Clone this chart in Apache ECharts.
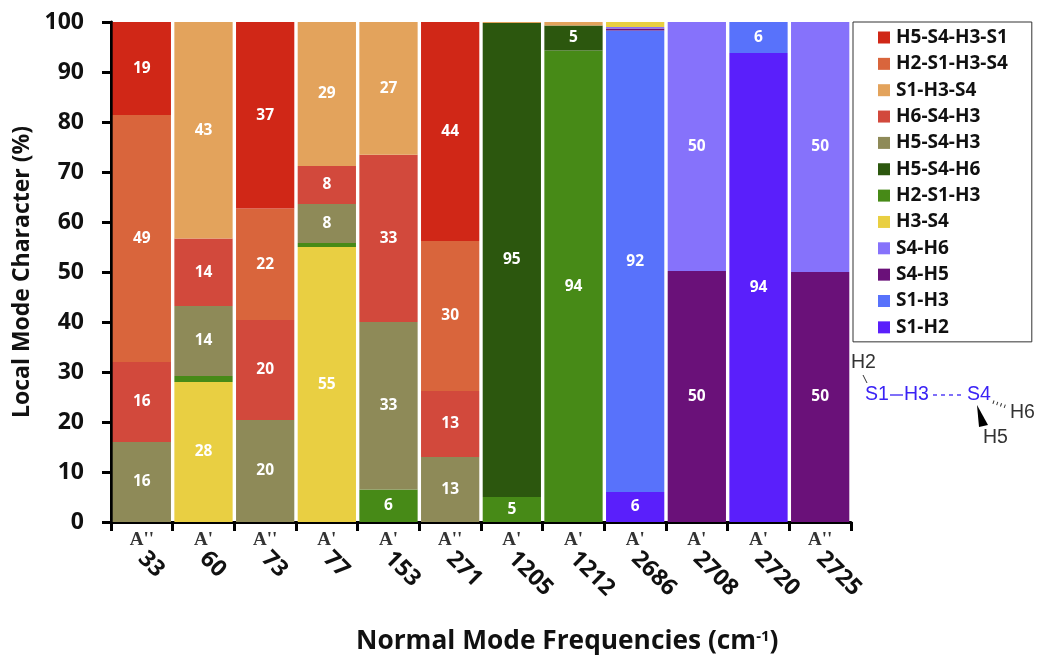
<!DOCTYPE html>
<html><head><meta charset="utf-8">
<style>html,body{margin:0;padding:0;background:#fff}#c{width:1037px;height:656px}</style>
<script src="https://cdn.jsdelivr.net/npm/echarts@6/dist/echarts.min.js"></script>
</head><body><div id="c"></div>
<script>
const frequencies = ['33','60','73','77','153','271','1205','1212','2686','2708','2720','2725'];
const symmetries  = ["A''","A'","A''","A'","A'","A''","A'","A'","A'","A'","A'","A''"];
// stacking order: bottom to top
const S1_H2        = [0,0,0,0,0,0,0,0,6,0,93.8,0];
const S1_H3        = [0,0,0,0,0,0,0,0,92.3,0,6.2,0];
const S4_H5        = [0,0,0,0,0,0,0,0,0.4,50.2,0,50];
const S4_H6        = [0,0,0,0,0,0,0,0,0.3,49.8,0,50];
const H3_S4        = [0,28,0,55,0,0,0,0,1,0,0,0];
const H2_S1_H3     = [0,1.2,0,0.8,6.49,0,5,94.3,0,0,0,0];
const H5_S4_H6     = [0,0,0,0,0,0,94.8,5,0,0,0,0];
const H5_S4_H3     = [16,14,20.4,7.8,33.49,13,0,0,0,0,0,0];
const H6_S4_H3     = [16,13.5,20,7.6,33.49,13.2,0,0,0,0,0,0];
const S1_H3_S4     = [0,43.3,0,28.8,26.53,0,0.2,0.7,0,0,0,0];
const H2_S1_H3_S4  = [49.4,0,22.3,0,0,30,0,0,0,0,0,0];
const H5_S4_H3_S1  = [18.6,0,37.3,0,0,43.8,0,0,0,0,0,0];
const yTicks = {min:0,max:100,step:10};

const stackSeries = [
  ['S1-H2',S1_H2,'#5a1ffb'],['S1-H3',S1_H3,'#5872fb'],['S4-H5',S4_H5,'#6a1179'],
  ['S4-H6',S4_H6,'#8672fb'],['H3-S4',H3_S4,'#e9cf42'],['H2-S1-H3',H2_S1_H3,'#478a17'],
  ['H5-S4-H6',H5_S4_H6,'#2c570e'],['H5-S4-H3',H5_S4_H3,'#8e8a58'],['H6-S4-H3',H6_S4_H3,'#d2493c'],
  ['S1-H3-S4',S1_H3_S4,'#e3a35c'],['H2-S1-H3-S4',H2_S1_H3_S4,'#d9653c'],['H5-S4-H3-S1',H5_S4_H3_S1,'#d02717']
];
const legendOrder = stackSeries.map(s=>s[0]).reverse();
const sans = '"Open Sans","Noto Sans",sans-serif';
const blue = '#3a22f5', dark = '#333';
const mol = '"Liberation Sans",sans-serif';

const chart = echarts.init(document.getElementById('c'),null,{renderer:'canvas'});
chart.setOption({
  animation:false,
  backgroundColor:'#fff',
  title:{
    left:356, top:629, padding:0,
    text:'{m|Normal Mode Frequencies (cm}{s|-1}{m|)}',
    textStyle:{rich:{
      m:{fontFamily:sans,fontWeight:'bold',fontSize:26.3,color:'#111'},
      s:{fontFamily:sans,fontWeight:'bold',fontSize:15,color:'#111',verticalAlign:'top',padding:[0,0,8,0]}
    }}
  },
  legend:{
    orient:'vertical', left:853, top:22, data:legendOrder,
    itemWidth:12,itemHeight:12,itemGap:7.35,
    padding:[6,24,5,25],
    borderColor:'#333',borderWidth:1,
    icon:'rect',
    textStyle:{fontFamily:sans,fontWeight:'bold',fontSize:19,color:'#111',padding:[0,0,0,1],lineHeight:18}
  },
  grid:{left:111,right:186,top:22,bottom:134},
  xAxis:[
    {type:'category',data:symmetries,position:'bottom',boundaryGap:true,
     axisLine:{lineStyle:{color:'#000',width:3}},
     axisTick:{show:true,alignWithLabel:false,length:9,lineStyle:{color:'#000',width:3}},
     axisLabel:{interval:0,margin:9,fontFamily:'"Liberation Serif",serif',fontWeight:'bold',fontSize:19,color:dark}},
    {type:'category',data:frequencies,position:'bottom',boundaryGap:true,
     axisLine:{show:false},axisTick:{show:false},
     axisLabel:{interval:0,rotate:-45,margin:33,fontFamily:sans,fontWeight:'bold',fontSize:23,color:'#111'}}
  ],
  yAxis:{
    type:'value',min:yTicks.min,max:yTicks.max,interval:yTicks.step,
    name:'Local Mode Character (%)',nameLocation:'middle',nameGap:76,
    nameTextStyle:{fontFamily:sans,fontWeight:'bold',fontSize:23,color:'#111'},
    axisLine:{show:true,lineStyle:{color:'#000',width:3}},
    axisTick:{show:true,length:9,lineStyle:{color:'#000',width:3}},
    splitLine:{show:false},
    axisLabel:{margin:27,fontFamily:sans,fontWeight:'bold',fontSize:23,color:'#111'}
  },
  series:stackSeries.map(([name,data,color])=>({
    name,type:'bar',stack:'all',data,barCategoryGap:'5.5%',
    itemStyle:{color},
    label:{show:true,position:'inside',fontFamily:sans,fontWeight:'bold',fontSize:15.5,color:'#fff',
      formatter:p=>p.value>=5?String(Math.round(p.value)):''}
  })),
  graphic:[
    {type:'text',left:851,top:353,style:{text:'H2',fontFamily:mol,fontSize:19.5,fill:dark}},
    {type:'line',shape:{x1:863,y1:375,x2:867,y2:383},style:{stroke:dark,lineWidth:1}},
    {type:'text',left:865,top:385,style:{text:'S1',fontFamily:mol,fontSize:19.5,fill:blue}},
    {type:'line',shape:{x1:890,y1:395,x2:903,y2:395},style:{stroke:blue,lineWidth:1.3}},
    {type:'text',left:904,top:385,style:{text:'H3',fontFamily:mol,fontSize:19.5,fill:blue}},
    {type:'line',shape:{x1:933,y1:395,x2:965,y2:395},style:{stroke:blue,lineWidth:1.3,lineDash:[4,4]}},
    {type:'text',left:967,top:385,style:{text:'S4',fontFamily:mol,fontSize:19.5,fill:blue}},
    {type:'polygon',shape:{points:[[977,405],[979,427],[988,425]]},style:{fill:'#000'}},
    {type:'line',shape:{x1:993,y1:402,x2:1007,y2:407},style:{stroke:dark,lineWidth:3.5,lineDash:[1,3]}},
    {type:'text',left:1010,top:403,style:{text:'H6',fontFamily:mol,fontSize:19.5,fill:dark}},
    {type:'text',left:983,top:428,style:{text:'H5',fontFamily:mol,fontSize:19.5,fill:dark}}
  ]
});
</script></body></html>
